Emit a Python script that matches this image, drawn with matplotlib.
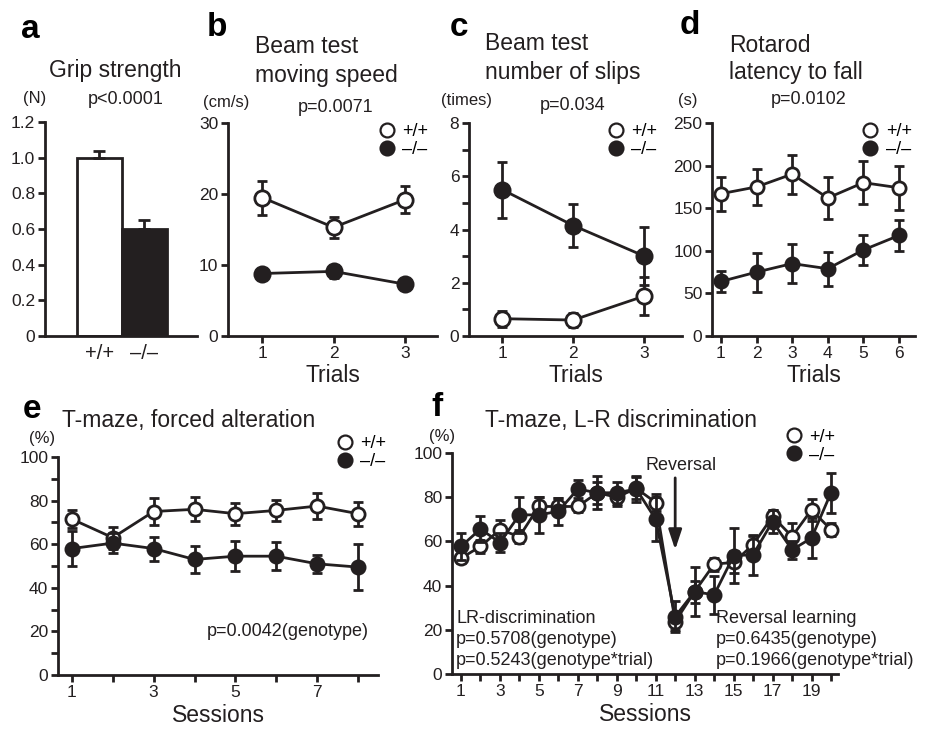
import numpy as np
import matplotlib
matplotlib.use("Agg")
import matplotlib.pyplot as plt
from matplotlib.lines import Line2D

plt.rcParams['font.family'] = ['Liberation Sans', 'DejaVu Sans']

INK = '#231f20'

# a: grip strength
grip_labels = ['+/+', '–/–']
grip_mean = [1.0, 0.6]
grip_err = [0.04, 0.05]

# b: beam test moving speed
beam_trials = [1, 2, 3]
speed_wt = [19.5, 15.3, 19.2]
speed_wt_err = [2.4, 1.5, 1.9]
speed_ko = [8.8, 9.1, 7.3]
speed_ko_err = [0.7, 0.9, 0.5]

# c: beam test number of slips
slips_wt = [0.65, 0.6, 1.5]
slips_wt_err = [0.3, 0.25, 0.7]
slips_ko = [5.5, 4.15, 3.0]
slips_ko_err = [1.05, 0.8, 1.1]

# d: rotarod
rota_trials = [1, 2, 3, 4, 5, 6]
rota_wt = [167, 175, 190, 162, 180, 174]
rota_wt_err = [20, 21, 23, 25, 25, 26]
rota_ko = [64, 75, 85, 79, 101, 118]
rota_ko_err = [12, 23, 23, 20, 18, 18]

# e: T-maze forced alteration
fa_sessions = [1, 2, 3, 4, 5, 6, 7, 8]
fa_wt = [71.5, 63, 75, 76, 74, 75.5, 77.5, 74]
fa_wt_err = [4, 5, 6, 5.5, 5, 5, 6, 5.5]
fa_ko = [58, 60.5, 58, 53, 54.5, 54.5, 51, 49.5]
fa_ko_err = [8, 4.5, 5.5, 6, 7, 6.5, 4, 10.5]

# f: T-maze L-R discrimination
lr_sessions = list(range(1, 21))
lr_wt = [52.4, 57.7, 65.3, 62.2, 75.8, 75.8, 75.8, 82, 80, 84,
         77.6, 23.7, 37.3, 49.7, 50.5, 58.5, 71.3, 62.2, 74.3, 65.3]
lr_wt_err = [2, 3, 4.5, 3, 4.5, 4, 2.5, 5, 4, 5,
             4, 4, 5, 3, 5, 4, 3, 6, 5, 3]
lr_ko = [57.7, 65.6, 59.5, 72, 72, 73.6, 83.7, 82, 82, 83.7,
         70, 26, 37.3, 35.8, 53.5, 54, 69, 56.2, 61.5, 82]
lr_ko_err = [6, 6, 4.5, 8, 8, 6, 4, 7.5, 5, 6,
             10, 7, 11, 8.5, 12.5, 9, 5, 4, 9, 9]

W, H = 931, 742
fig = plt.figure(figsize=(W / 100, H / 100), dpi=100)


def box(l, r, b, t):
    return [l / W, 1 - b / H, (r - l) / W, (b - t) / H]


def ftext(x, y, s, **kw):
    kw.setdefault('ha', 'center')
    kw.setdefault('va', 'center')
    kw.setdefault('color', INK)
    fig.text(x / W, 1 - y / H, s, **kw)


def style(ax):
    for side in ['top', 'right']:
        ax.spines[side].set_visible(False)
    for side in ['left', 'bottom']:
        ax.spines[side].set_linewidth(2)
        ax.spines[side].set_color(INK)
    ax.tick_params(width=2, length=5, labelsize=12.5, colors=INK, pad=2)


def series(ax, x, wt, wt_err, ko, ko_err, ms=9.5):
    ax.errorbar(x, wt, yerr=wt_err, color=INK, lw=2, elinewidth=2, capsize=3.5,
                capthick=2, marker='o', ms=ms, mfc='white', mec=INK, mew=2,
                clip_on=False, zorder=3)
    ax.errorbar(x, ko, yerr=ko_err, color=INK, lw=2, elinewidth=2, capsize=3.5,
                capthick=2, marker='o', ms=ms, mfc=INK, mec=INK, mew=2,
                clip_on=False, zorder=4)


def legend(ax, x, y):
    h = [Line2D([], [], ls='none', marker='o', ms=10, mfc='white', mec=INK, mew=1.6),
         Line2D([], [], ls='none', marker='o', ms=10, mfc=INK, mec=INK, mew=1.6)]
    ax.legend(h, ['+/+', '–/–'], loc='upper left', bbox_to_anchor=(x, y),
              frameon=False, fontsize=13, handlelength=0.9, handletextpad=0.4,
              borderpad=0, borderaxespad=0, labelspacing=0.05)


# ---- a
ax = fig.add_axes(box(45, 197, 336, 122))
style(ax)
ax.bar([0, 1], grip_mean, width=1.0, color=['white', INK], edgecolor=INK, lw=2,
       yerr=[[0, 0], grip_err], capsize=4,
       error_kw=dict(elinewidth=2, capthick=2, ecolor=INK))
ax.set_xlim(-1.21, 2.17)
ax.set_ylim(0, 1.2)
ax.set_yticks([0, 0.2, 0.4, 0.6, 0.8, 1.0, 1.2])
ax.set_yticklabels(['0', '0.2', '0.4', '0.6', '0.8', '1.0', '1.2'])
ax.set_xticks([0, 1])
ax.set_xticklabels(grip_labels, fontsize=14.5)
ax.tick_params(axis='x', length=0, pad=6)

# ---- b
ax = fig.add_axes(box(228, 437, 336, 123))
style(ax)
series(ax, beam_trials, speed_wt, speed_wt_err, speed_ko, speed_ko_err, ms=11)
ax.set_xlim(0.52, 3.45)
ax.set_ylim(0, 30)
ax.set_yticks([0, 10, 20, 30])
ax.set_xticks(beam_trials)
ax.set_xlabel('Trials', fontsize=16.5, color=INK, labelpad=2)
legend(ax, 0.72, 1.0)

# ---- c
ax = fig.add_axes(box(469, 682, 336, 123))
style(ax)
series(ax, beam_trials, slips_wt, slips_wt_err, slips_ko, slips_ko_err, ms=11)
ax.set_xlim(0.535, 3.53)
ax.set_ylim(0, 8)
ax.set_yticks(range(0, 9))
ax.set_yticklabels(['0', '', '2', '', '4', '', '6', '', '8'])
ax.set_xticks(beam_trials)
ax.set_xlabel('Trials', fontsize=16.5, color=INK, labelpad=2)
legend(ax, 0.65, 1.0)

# ---- d
ax = fig.add_axes(box(712, 915, 336, 123))
style(ax)
series(ax, rota_trials, rota_wt, rota_wt_err, rota_ko, rota_ko_err)
ax.set_xlim(0.75, 6.45)
ax.set_ylim(0, 250)
ax.set_yticks([0, 50, 100, 150, 200, 250])
ax.set_xticks(rota_trials)
ax.set_xlabel('Trials', fontsize=16.5, color=INK, labelpad=2)
legend(ax, 0.74, 1.0)

# ---- e
ax = fig.add_axes(box(58, 378, 675, 457))
style(ax)
series(ax, fa_sessions, fa_wt, fa_wt_err, fa_ko, fa_ko_err)
ax.set_xlim(0.66, 8.49)
ax.set_ylim(0, 100)
ax.set_yticks(range(0, 101, 10))
ax.set_yticklabels([str(v) if v % 20 == 0 else '' for v in range(0, 101, 10)])
ax.set_xticks(fa_sessions)
ax.set_xticklabels([str(s) if s % 2 == 1 else '' for s in fa_sessions])
ax.set_xlabel('Sessions', fontsize=16.5, color=INK, labelpad=3)
legend(ax, 0.87, 1.1)
ax.text(0.97, 0.2, 'p=0.0042(genotype)', transform=ax.transAxes, ha='right',
        va='center', fontsize=13, color=INK)

# ---- f
ax = fig.add_axes(box(452, 838, 674, 453))
style(ax)
series(ax, lr_sessions, lr_wt, lr_wt_err, lr_ko, lr_ko_err)
ax.set_xlim(0.54, 20.36)
ax.set_ylim(0, 100)
ax.set_yticks(range(0, 101, 20))
ax.set_xticks(lr_sessions)
ax.set_xticklabels([str(s) if s % 2 == 1 else '' for s in lr_sessions])
ax.set_xlabel('Sessions', fontsize=16.5, color=INK, labelpad=3)
legend(ax, 0.865, 1.11)
ax.annotate('', xy=(12, 55), xytext=(12, 90),
            arrowprops=dict(arrowstyle='-|>,head_width=0.4,head_length=1.2',
                            color=INK, lw=2))
ax.text(12.3, 94.5, 'Reversal', ha='center', va='center', fontsize=13, color=INK)
ax.text(0.75, 15.5, 'LR-discrimination\np=0.5708(genotype)\np=0.5243(genotype*trial)',
        ha='left', va='center', fontsize=13, color=INK, linespacing=1.3)
ax.text(14.1, 15.5, 'Reversal learning\np=0.6435(genotype)\np=0.1966(genotype*trial)',
        ha='left', va='center', fontsize=13, color=INK, linespacing=1.3)

# ---- titles, units, p-values, panel letters
for s, x, y in [('a', 30, 30), ('b', 217, 28), ('c', 459, 28), ('d', 690, 25),
                ('e', 32, 410), ('f', 437, 408)]:
    ftext(x, y, s, fontsize=24, fontweight='bold', color='black')

ftext(115, 70, 'Grip strength', fontsize=16.5)
ftext(255, 61, 'Beam test\nmoving speed', fontsize=16.5, ha='left', linespacing=1.3)
ftext(485, 58, 'Beam test\nnumber of slips', fontsize=16.5, ha='left', linespacing=1.3)
ftext(729, 59, 'Rotarod\nlatency to fall', fontsize=16.5, ha='left', linespacing=1.25)
ftext(62, 420, 'T-maze, forced alteration', fontsize=16.5, ha='left')
ftext(485, 420, 'T-maze, L-R discrimination', fontsize=16.5, ha='left')

ftext(35, 98, '(N)', fontsize=12)
ftext(226, 102, '(cm/s)', fontsize=12)
ftext(466, 101, '(times)', fontsize=12)
ftext(688, 100, '(s)', fontsize=12)
ftext(42, 438, '(%)', fontsize=12)
ftext(442, 436, '(%)', fontsize=12)

ftext(126, 100, 'p<0.0001', fontsize=13)
ftext(336, 107, 'p=0.0071', fontsize=13)
ftext(573, 105, 'p=0.034', fontsize=13)
ftext(809, 100, 'p=0.0102', fontsize=13)

fig.savefig('out.png', dpi=100)
